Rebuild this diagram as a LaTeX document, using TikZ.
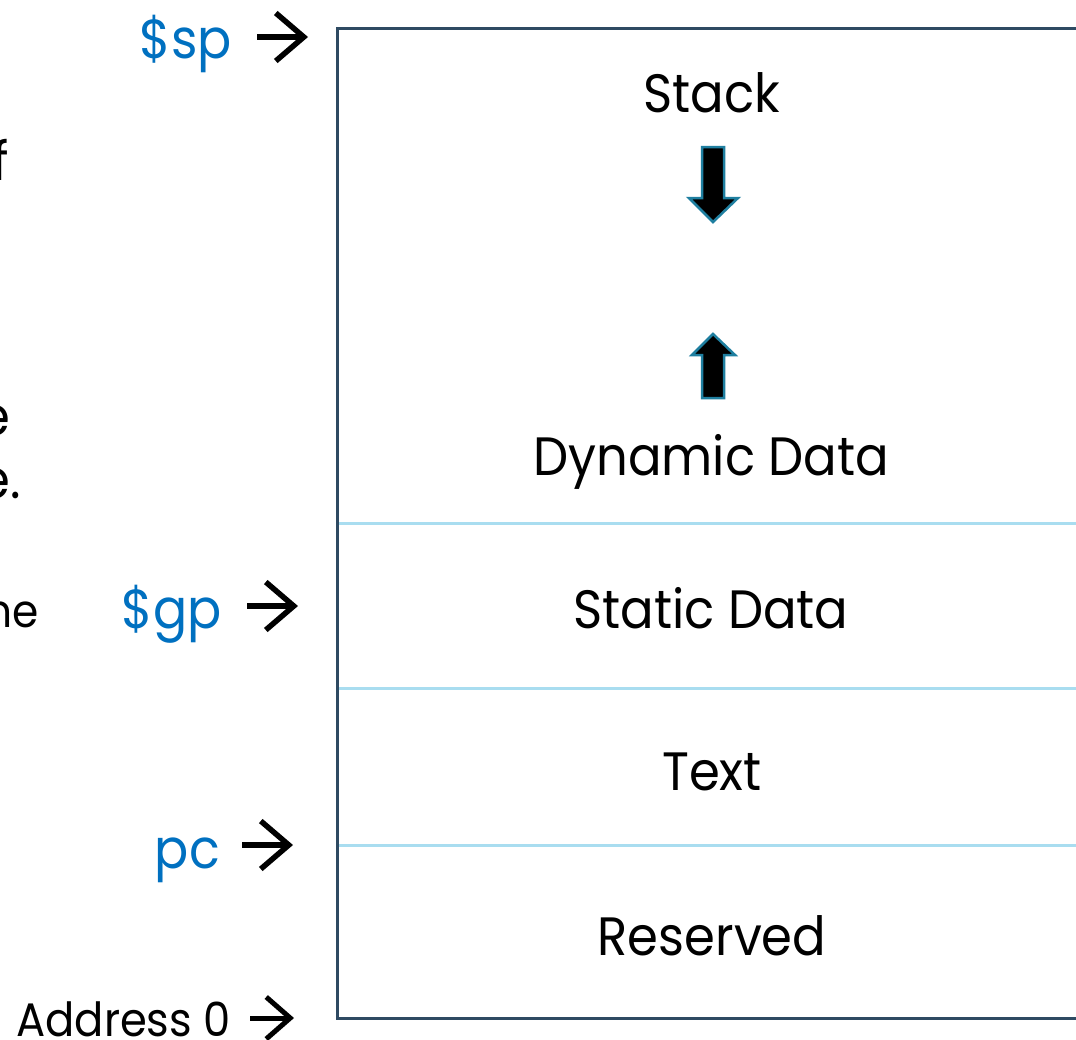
\documentclass[tikz,border=0pt]{standalone}
\usepackage{fontspec}
\setmainfont[FakeStretch=0.92]{Poppins}
\usetikzlibrary{arrows.meta}
\definecolor{boxcol}{HTML}{2E4A62}
\definecolor{divcol}{HTML}{A9DDF0}
\definecolor{regblue}{HTML}{0070C0}
\definecolor{blockedge}{HTML}{1F7FA0}
\tikzset{
  big/.style={font=\fontsize{54}{60}\selectfont, inner sep=0pt, anchor=base},
  small/.style={font=\fontsize{47}{52}\selectfont, inner sep=0pt, anchor=base east},
  frag/.style={font=\fontsize{54}{60}\selectfont, inner sep=0pt, anchor=base east},
  reg/.style={font=\fontsize{55}{60}\selectfont, inner sep=0pt, anchor=base east, text=regblue},
  ptr/.style={line width=5.5pt, -{Straight Barb[length=28pt, width=48pt, line width=5.5pt]}},
  blockarrow/.style={fill=black, draw=blockedge, line width=2.5pt, line join=miter},
  divider/.style={draw=divcol, line width=3pt},
}
\begin{document}
\begin{tikzpicture}[x=1pt, y=-1pt]
\clip (0,0) rectangle (1076,1039);
\fill[white] (0,0) rectangle (1076,1039);
% left text fragments (cut off in the reference)
\node[frag] (fragf) at (9,180) {f};
\node[frag] (frage) at (11,435) {e};
\node[frag] (fragedot) at (21,498) {e.};
\node[frag, font=\fontsize{46}{50}\selectfont] (fragne) at (39,627) {ne};
% memory box
\coordinate (tl) at (337,28);
\coordinate (bl) at (337,1018);
\draw[divider] (337,523) -- (1080,523);
\draw[divider] (337,688) -- (1080,688);
\draw[divider] (337,845) -- (1080,845);
\draw[boxcol, line width=3pt] (1090,28) -- (tl) -- (bl) -- (1090,1018);
% segment labels
\node[big] (stack) at (712,112) {Stack};
\node[big] (dyn) at (711,475) {Dynamic Data};
\node[big] (static) at (711,628) {Static Data};
\node[big] (text) at (712,790) {Text};
\node[big] (res) at (712,955) {Reserved};
% block arrows
\draw[blockarrow] (702,147) -- (724,147) -- (724,198) -- (738,198) -- (713,222) -- (689,198) -- (702,198) -- cycle;
\draw[blockarrow] (713,334) -- (735,355) -- (724,355) -- (724,398) -- (702,398) -- (702,355) -- (692,355) -- cycle;
% register labels and pointers
\node[reg] (sp) at (232,58) {\$sp};
\coordinate (spA) at (257,37);
\coordinate (spB) at (308,37);
\draw[ptr] (spA) -- (spB);
\node[reg] (gp) at (222,628) {\$gp};
\coordinate (gpA) at (247,606);
\coordinate (gpB) at (298,606);
\draw[ptr] (gpA) -- (gpB);
\node[reg] (pc) at (220,868) {pc};
\coordinate (pcA) at (242,845);
\coordinate (pcB) at (293,845);
\draw[ptr] (pcA) -- (pcB);
\node[small] (addr) at (231,1036) {Address 0};
\coordinate (adA) at (250,1018);
\coordinate (adB) at (294,1018);
\draw[ptr, -{Straight Barb[length=24pt, width=42pt, line width=5pt]}, line width=5pt] (adA) -- (adB);
\end{tikzpicture}
\end{document}
